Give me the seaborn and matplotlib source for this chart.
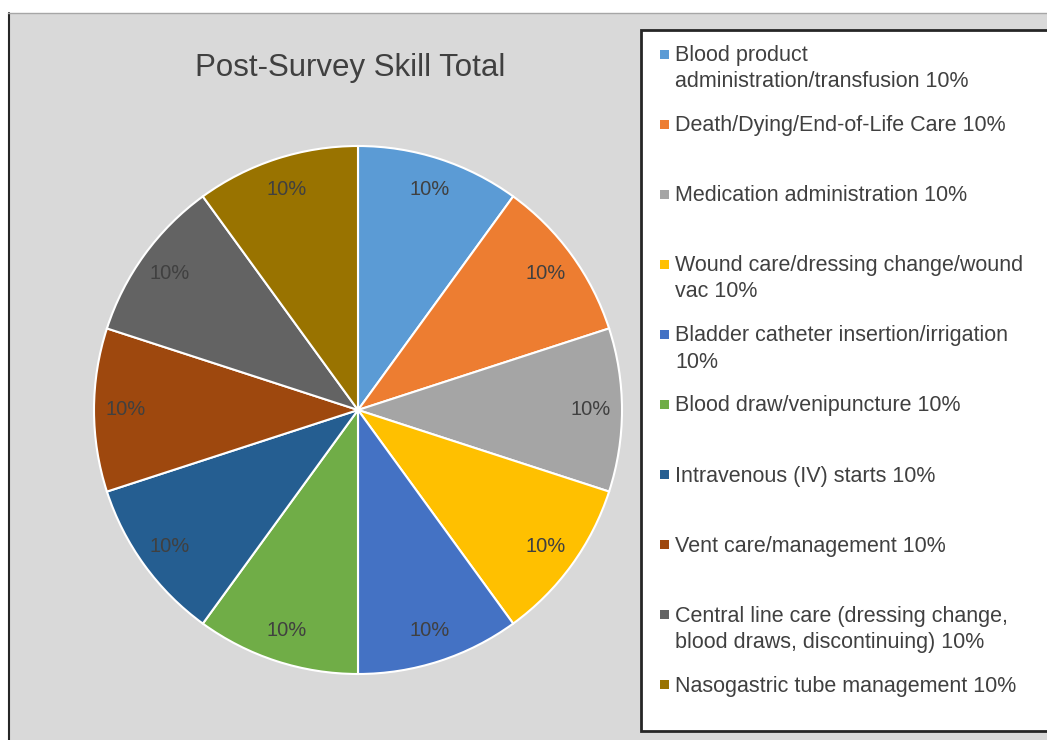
import matplotlib
matplotlib.use("Agg")
import matplotlib.pyplot as plt
from matplotlib.patches import Rectangle
import seaborn as sns

sns.set_theme(style="white")
plt.rcParams['font.family'] = ['Liberation Sans', 'DejaVu Sans']

title = "Post-Survey Skill Total"
legend_labels = [
    "Blood product\nadministration/transfusion 10%",
    "Death/Dying/End-of-Life Care 10%",
    "Medication administration 10%",
    "Wound care/dressing change/wound\nvac 10%",
    "Bladder catheter insertion/irrigation\n10%",
    "Blood draw/venipuncture 10%",
    "Intravenous (IV) starts 10%",
    "Vent care/management 10%",
    "Central line care (dressing change,\nblood draws, discontinuing) 10%",
    "Nasogastric tube management 10%",
]
values = [10, 10, 10, 10, 10, 10, 10, 10, 10, 10]
colors = ["#5B9BD5", "#ED7D31", "#A5A5A5", "#FFC000", "#4472C4",
          "#70AD47", "#255E91", "#9E480E", "#636363", "#997300"]

W, H = 1047, 740
fig = plt.figure(figsize=(W / 100, H / 100), dpi=100, facecolor="white")

def fx(x):
    return x / W

def fy(y):
    return 1 - y / H

# grey chart panel
fig.patches.append(Rectangle((fx(8), 0), 1 - fx(8), fy(13), transform=fig.transFigure,
                             facecolor="#D9D9D9", edgecolor="none", zorder=0))
fig.lines.append(plt.Line2D([fx(8.5), fx(8.5)], [0, fy(13)], transform=fig.transFigure,
                            color="#262626", lw=1.5, zorder=1))
fig.lines.append(plt.Line2D([fx(8), 1], [fy(13), fy(13)], transform=fig.transFigure,
                            color="#A6A6A6", lw=1.0, zorder=1))

# pie axes
cx, cy, r = 358, 410, 264
ax = fig.add_axes([fx(cx - r), fy(cy + r), 2 * r / W, 2 * r / H])
ax.set_zorder(5)
ax.set_facecolor("none")
wedges, texts, autotexts = ax.pie(
    values, colors=colors, startangle=90, counterclock=False,
    autopct='%.0f%%', pctdistance=0.88,
    wedgeprops=dict(edgecolor="white", linewidth=1.5),
    textprops=dict(color="#404040", fontsize=14.5),
)
ax.set_xlim(-1, 1)
ax.set_ylim(-1, 1)
ax.set_aspect("auto")
ax.axis("off")

fig.text(fx(350), fy(68), title, ha="center", va="center", fontsize=22.5,
         color="#404040", zorder=6)

# legend box
fig.patches.append(Rectangle((fx(641), fy(731)), 1.2 - fx(641), fy(30) - fy(731),
                             transform=fig.transFigure, facecolor="white",
                             edgecolor="#262626", linewidth=2, zorder=2))
for i, (lab, col) in enumerate(zip(legend_labels, colors)):
    my = 54 + 70.1 * i
    fig.patches.append(Rectangle((fx(660), fy(my + 4.5)), 9 / W, 9 / H,
                                 transform=fig.transFigure, facecolor=col,
                                 edgecolor="none", zorder=3))
    fig.text(fx(675), fy(my - 9), lab, ha="left", va="top", fontsize=15.5,
             color="#404040", linespacing=1.32, zorder=4)

fig.savefig("out.png", dpi=100, facecolor="white")
